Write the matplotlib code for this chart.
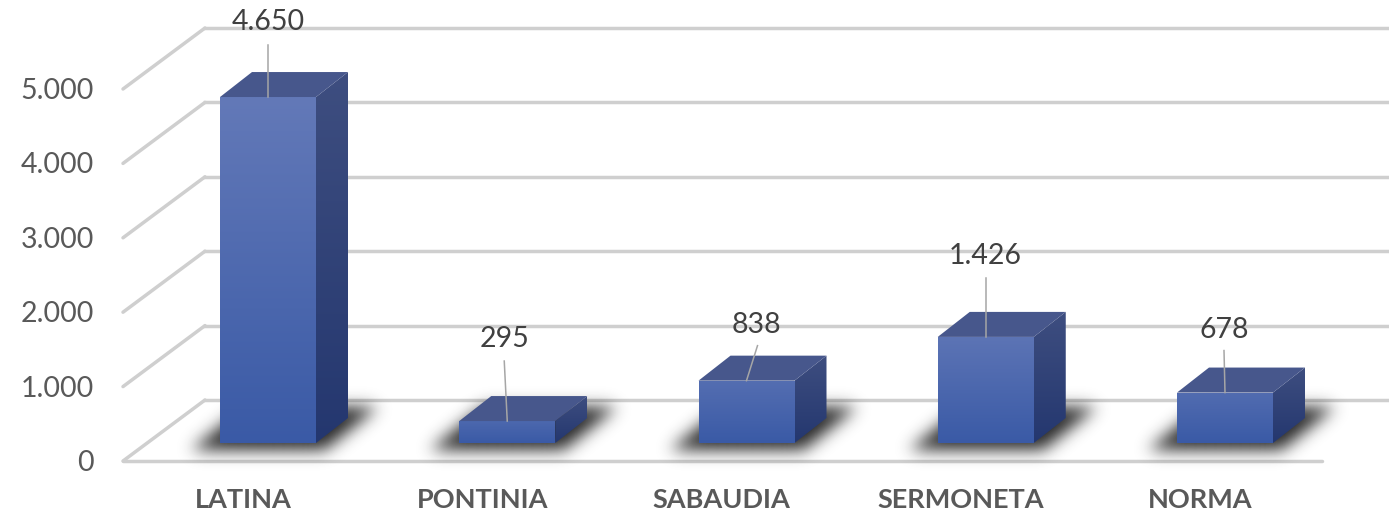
import matplotlib
matplotlib.use("Agg")
import matplotlib.pyplot as plt
from matplotlib.colors import LinearSegmentedColormap, to_rgb
from matplotlib.patches import Polygon
import numpy as np

plt.rcParams["font.family"] = ["Lato", "DejaVu Sans"]

categories = ["LATINA", "PONTINIA", "SABAUDIA", "SERMONETA", "NORMA"]
values = [4650, 295, 838, 1426, 678]
value_labels = ["4.650", "295", "838", "1.426", "678"]
ticks = [0, 1000, 2000, 3000, 4000, 5000]
tick_labels = ["0", "1.000", "2.000", "3.000", "4.000", "5.000"]

# figure pixels -> data units
W, H = 1389, 515
PX_X = 1 / 239.25
PX_Y = 1000 / 74.4
X0_PX, Y0_PX = 268, 443


def xpx(px):
    return (px - X0_PX) * PX_X


def ypx(px):
    return (Y0_PX - px) * PX_Y


HALF = 48 * PX_X
DX = 32 * PX_X
DY = 25 * PX_Y
FRONT_Y = ypx(461)
BACK_Y = ypx(400)
GRID = "#cfcfcf"

# label centre and leader start, offset from the bar's top-front centre, in pixels
label_layout = [(0, -75, 0, -52), (-3, -82, -3, -60), (10, -56, 11, -35), (-1, -81, 0, -59), (-1, -63, -1, -42)]


def gradient(ax, poly, top, bottom, extent):
    cmap = LinearSegmentedColormap.from_list("g", [top, bottom])
    patch = Polygon(poly, closed=True, transform=ax.transData, fc="none", ec="none", zorder=4)
    ax.add_patch(patch)
    im = ax.imshow(np.linspace(0, 1, 256)[:, None], cmap=cmap, extent=extent, aspect="auto",
                   origin="upper", zorder=4, interpolation="bilinear")
    im.set_clip_path(patch)


def blend(a, b, t):
    return tuple((1 - t) * p + t * q for p, q in zip(to_rgb(a), to_rgb(b)))


def shadow(ax, x):
    px = np.arange(-120, 200)
    py = np.arange(-70, 50)
    xx, yy = np.meshgrid(px, py)
    # parallelogram lying on the floor, sheared to the back right
    shear = -(yy - 8) * 1.25
    mask = ((yy > -36) & (yy < 8) & (xx > -78 + shear) & (xx < 56 + shear)).astype(float)
    kernel = np.exp(-0.5 * (np.arange(-28, 29) / 8.0) ** 2)
    kernel /= kernel.sum()
    mask = np.apply_along_axis(lambda r: np.convolve(r, kernel, "same"), 1, mask)
    mask = np.apply_along_axis(lambda c: np.convolve(c, kernel, "same"), 0, mask)
    rgba = np.zeros(mask.shape + (4,))
    rgba[..., :3] = to_rgb("#1c1c1c")
    rgba[..., 3] = mask * 0.95
    extent = [x + px[0] * PX_X, x + px[-1] * PX_X, -py[-1] * PX_Y, -py[0] * PX_Y]
    ax.imshow(rgba, extent=extent, aspect="auto", origin="upper", zorder=3, interpolation="bilinear")


fig = plt.figure(figsize=(W / 100, H / 100), dpi=100)
ax = fig.add_axes([0, 0, 1, 1])
ax.axis("off")

x_front, x_back, x_end = xpx(123), xpx(205), xpx(1395)
for tick, label in zip(ticks, tick_labels):
    ax.plot([x_front, x_back], [FRONT_Y + tick, BACK_Y + tick], color=GRID, lw=2.5, zorder=1,
            solid_capstyle="round")
    ax.plot([x_back, x_end], [BACK_Y + tick, BACK_Y + tick], color=GRID, lw=2.5, zorder=1)
    ax.text(xpx(94), FRONT_Y + tick - 2 * PX_Y, label, ha="right", va="center", fontsize=20.5, color="#595959")
ax.plot([x_front, xpx(1322)], [FRONT_Y, FRONT_Y], color=GRID, lw=2.5, zorder=1, solid_capstyle="round")

for i, (name, v, text, lay) in enumerate(zip(categories, values, value_labels, label_layout)):
    shadow(ax, i)
    l, r = i - HALF, i + HALF
    top_colour = blend("#3f5ea8", "#6379b8", min(1, v / 2500 + 0.25))
    gradient(ax, [(l, 0), (r, 0), (r, v), (l, v)], top_colour, "#3a5aa6", [l, r, 0, v])
    gradient(ax, [(r, 0), (r + DX, DY), (r + DX, v + DY), (r, v)], "#3e4e80", "#24376f", [r, r + DX, 0, v + DY])
    ax.add_patch(Polygon([(l, v), (r, v), (r + DX, v + DY), (l + DX, v + DY)], closed=True,
                         fc="#47578c", ec="none", zorder=5))
    lx, ly, sx, sy = lay
    ax.text(i + lx * PX_X, v - ly * PX_Y, text, ha="center", va="center", fontsize=20.5, color="#404040", zorder=7)
    ax.plot([i + sx * PX_X, i], [v - sy * PX_Y, v], color="#a6a6a6", lw=1.1, zorder=6)
    ax.text(i - 25 * PX_X, ypx(500), name, ha="center", va="center", fontsize=19.5, fontweight="bold", color="#595959")

ax.set_xlim(xpx(0), xpx(W))
ax.set_ylim(ypx(H), ypx(0))
fig.savefig("out.png", dpi=100)
